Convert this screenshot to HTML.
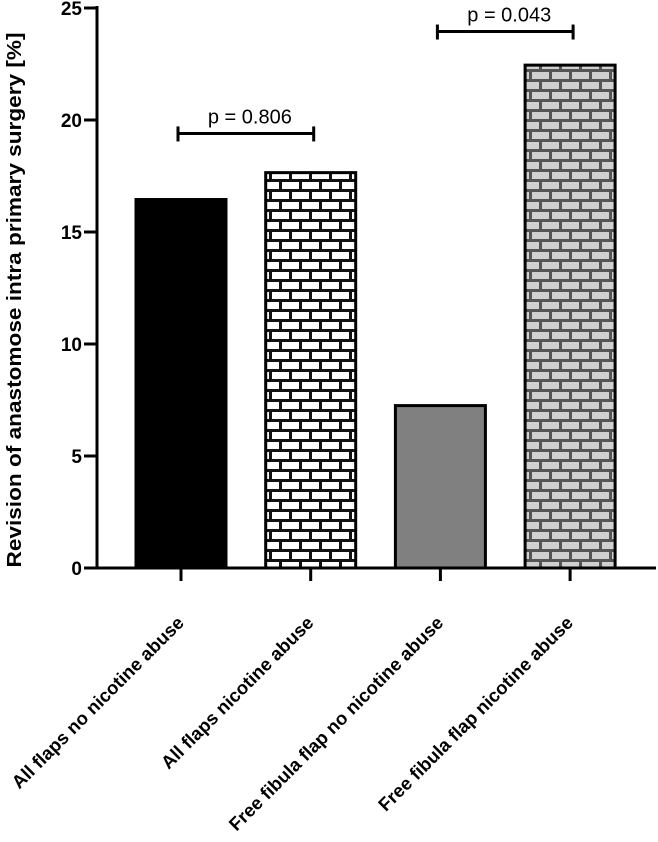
<!DOCTYPE html>
<html><head><meta charset="utf-8"><style>
html,body{margin:0;padding:0;background:#fff}
svg{display:block;font-family:"Liberation Sans",sans-serif}
</style></head><body>
<svg id="c" width="658" height="842" viewBox="0 0 658 842">
<defs>
<pattern id="brickW" width="20" height="20" patternUnits="userSpaceOnUse" x="0" y="0">
<rect width="20" height="20" fill="#111"/>
<rect x="2" y="2" width="17" height="7" fill="#fff"/>
<rect x="12" y="12" width="17" height="7" fill="#fff"/>
<rect x="-8" y="12" width="17" height="7" fill="#fff"/>
</pattern>
<pattern id="brickG" width="20" height="20" patternUnits="userSpaceOnUse">
<rect width="20" height="20" fill="#555"/>
<rect x="2" y="2" width="17" height="7" fill="#d0d0d0"/>
<rect x="12" y="12" width="17" height="7" fill="#d0d0d0"/>
<rect x="-8" y="12" width="17" height="7" fill="#d0d0d0"/>
</pattern>
</defs>
<g id="plot"></g>
</svg>
<script>
const categories = ["All flaps no nicotine abuse","All flaps nicotine abuse","Free fibula flap no nicotine abuse","Free fibula flap nicotine abuse"];
const values = [16.45, 17.65, 7.25, 22.45];
const yTicks = [0, 5, 10, 15, 20, 25];
const pLabels = ["p = 0.806", "p = 0.043"];
const pPairs = [[0,1],[2,3]];
const pLevels = [19.4, 23.95];

const NS = "http://www.w3.org/2000/svg";
const g = document.getElementById("plot");
const y = v => 568 - v * 22.4;
const xc = i => 181 + i * 129.7;
const bw = 90;
const fills = ["#000", "url(#brickW)", "#808080", "url(#brickG)"];
function mk(tag, attrs, parent) {
  const e = document.createElementNS(NS, tag);
  for (const k in attrs) e.setAttribute(k, attrs[k]);
  (parent || g).appendChild(e);
  return e;
}
values.forEach((v, i) => {
  const r = mk("rect", {x: xc(i) - bw/2, y: y(v), width: bw, height: y(0) - y(v), fill: fills[i], stroke: "#000", "stroke-width": 3});
  
  
});
const ya = mk("line", {x1: 97, y1: 6, x2: 97, y2: 568, stroke: "#000", "stroke-width": 3});


const xa = mk("line", {x1: 84, y1: 568, x2: 656, y2: 568, stroke: "#000", "stroke-width": 3});


yTicks.forEach(t => {
  mk("line", {x1: 84, y1: y(t), x2: 97, y2: y(t), stroke: "#000", "stroke-width": 3});
  const tx = mk("text", {x: 82, y: y(t) + 7, "text-anchor": "end", "font-size": 19, "font-weight": "bold"});
  tx.textContent = t;
  
  
});
categories.forEach((c, i) => {
  mk("line", {x1: xc(i), y1: 568, x2: xc(i), y2: 581, stroke: "#000", "stroke-width": 3});
  const tx = mk("text", {x: 0, y: 0, "text-anchor": "end", "font-size": 18.5, "font-weight": "bold", transform: `translate(${xc(i)+4},${624}) rotate(-45)`});
  tx.textContent = c;
  
  
});
const yt = mk("text", {x: 0, y: 0, "text-anchor": "middle", "font-size": 20, "font-weight": "bold", textLength: 535, lengthAdjust: "spacingAndGlyphs", transform: "translate(21,300) rotate(-90)"});
yt.textContent = "Revision of anastomose intra primary surgery [%]";


pPairs.forEach((p, k) => {
  const x1 = xc(p[0]) - 3, x2 = xc(p[1]) + 3, yy = y(pLevels[k]);
  mk("line", {x1, y1: yy, x2, y2: yy, stroke: "#000", "stroke-width": 3});
  mk("line", {x1, y1: yy - 7, x2: x1, y2: yy + 8, stroke: "#000", "stroke-width": 3});
  mk("line", {x1: x2, y1: yy - 7, x2, y2: yy + 8, stroke: "#000", "stroke-width": 3});
  const tx = mk("text", {x: (x1 + x2) / 2 + 4, y: yy - 10, "text-anchor": "middle", "font-size": 20});
  tx.textContent = pLabels[k];
  
  
});
</script>
</body></html>
